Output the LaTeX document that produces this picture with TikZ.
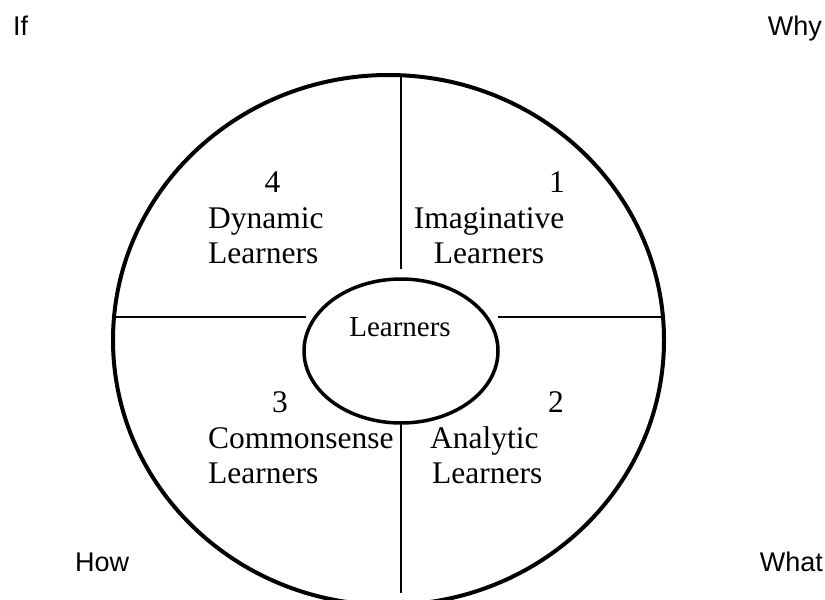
\documentclass[tikz,border=0pt]{standalone}
\usepackage{fontspec}
\setmainfont{Liberation Serif}
\newfontfamily\labelfont{Liberation Sans}
\usetikzlibrary{shapes.geometric}
\begin{document}
\begin{tikzpicture}[x=1pt,y=-1pt,
  qtext/.style={inner sep=0pt, font=\fontsize{31.5}{36}\selectfont},
  ctext/.style={inner sep=0pt, font=\fontsize{29}{34}\selectfont},
  corner/.style={inner sep=0pt, font=\labelfont\fontsize{27}{30}\selectfont},
  rim/.style={line width=4pt},
  divider/.style={line width=2pt}]
\useasboundingbox (0,0) rectangle (825,600);
% outer ring
\begin{scope}
  \clip (0,0) rectangle (825,600);
  \draw[rim] (388.5,340) ellipse [x radius=275.5, y radius=265];
\end{scope}
% hub
\node[draw, ellipse, line width=3.5pt, minimum width=194pt, minimum height=144pt, inner sep=0pt] (hub) at (401,351) {};
\node[ctext, anchor=base] (hubtext) at (400,336) {Learners};
% dividers
\coordinate (outerL) at (113,317);
\coordinate (hubL) at (306,317);
\coordinate (hubR) at (498,317);
\coordinate (outerR) at (664,317);
\coordinate (outerT) at (401,75);
\coordinate (topEnd) at (401,269);
\coordinate (hubB) at (401,422);
\coordinate (outerB) at (401,593);
\draw[divider] (outerL) -- (hubL);
\draw[divider] (hubR) -- (outerR);
\draw[divider] (outerT) -- (topEnd);
\draw[divider] (hubB) -- (outerB);
% quadrant texts
\node[qtext, anchor=base] (n4) at (272.5,192) {4};
\node[qtext, anchor=base west] (dyn) at (208,228) {Dynamic};
\node[qtext, anchor=base west] (dynL) at (208,263) {Learners};
\node[qtext, anchor=base] (n1) at (557,192) {1};
\node[qtext, anchor=base] (ima) at (489,228) {Imaginative};
\node[qtext, anchor=base] (imaL) at (489,263) {Learners};
\node[qtext, anchor=base] (n3) at (280,412) {3};
\node[qtext, anchor=base west] (com) at (208,448) {Commonsense};
\node[qtext, anchor=base west] (comL) at (208,483) {Learners};
\node[qtext, anchor=base] (n2) at (556,412) {2};
\node[qtext, anchor=base west] (ana) at (430,448) {Analytic};
\node[qtext, anchor=base west] (anaL) at (432,483) {Learners};
% corner labels
\node[corner, anchor=base west] (if) at (13,35) {If};
\node[corner, anchor=base east] (why) at (822,35) {Why};
\node[corner, anchor=base west] (how) at (75,571) {How};
\node[corner, anchor=base east] (what) at (823,571) {What};
\end{tikzpicture}
\end{document}
